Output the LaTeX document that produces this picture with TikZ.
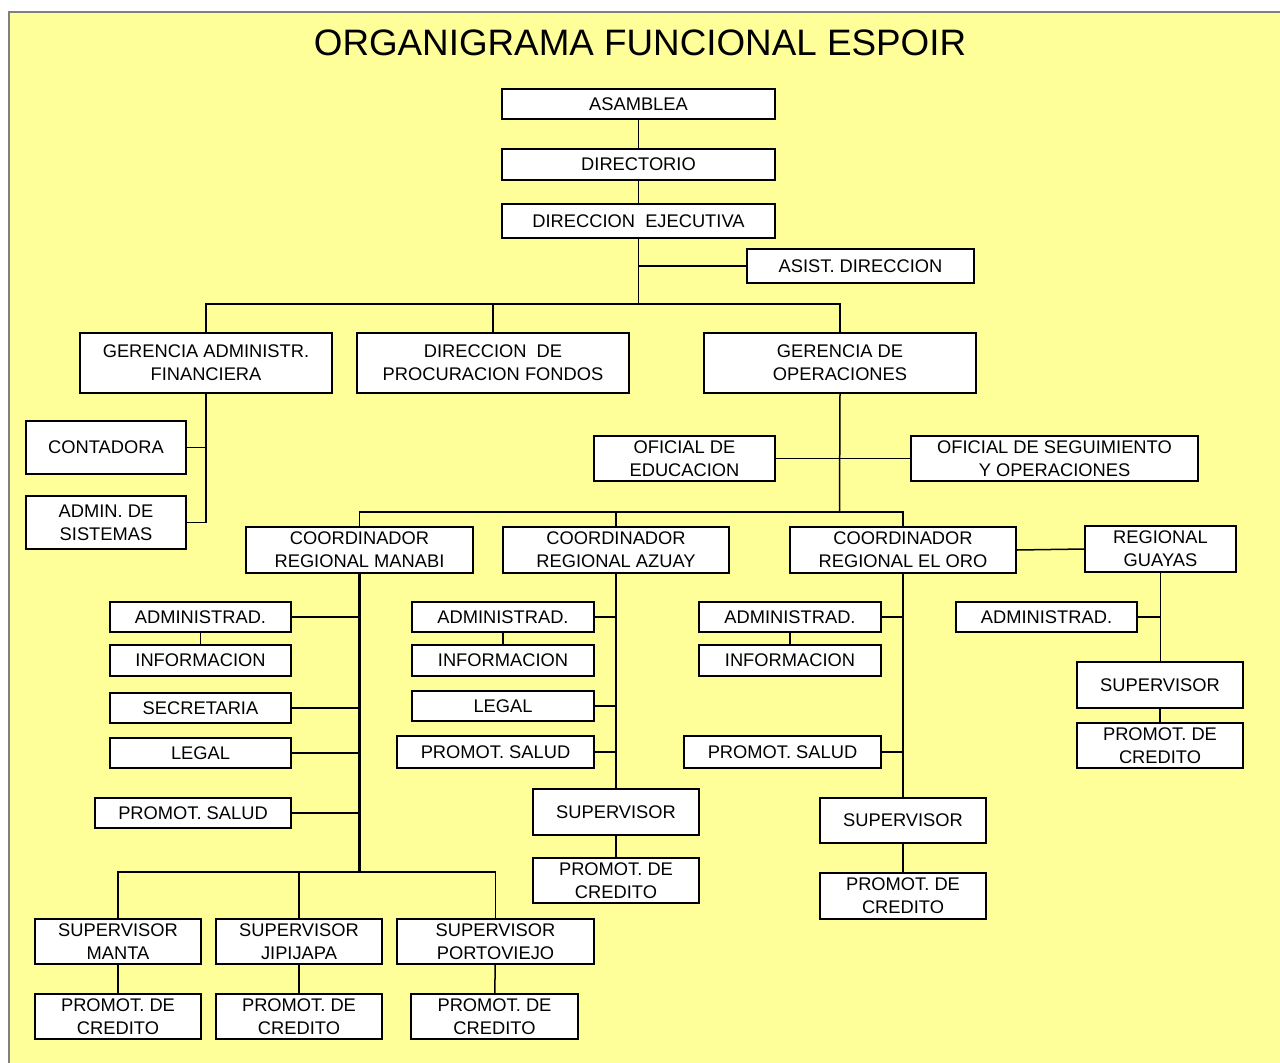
\documentclass[tikz,border=0pt]{standalone}
\usepackage{fontspec}
\setmainfont{Liberation Sans}
\definecolor{bgyellow}{RGB}{255,255,153}
\definecolor{framegray}{RGB}{128,128,128}
\tikzset{
  box/.style={draw=black, fill=white, line width=1.5pt, inner sep=0pt, align=center,
    font=\fontsize{18.3}{23}\selectfont},
  conn/.style={draw=black, line width=1.5pt},
  trunk/.style={draw=black, line width=2.6pt},
}
\newcommand{\obox}[6]{\node[box,minimum width={(#4)-(#2)},minimum height={(#5)-(#3)}] (#1) at ({((#2)+(#4))/2},{((#3)+(#5))/2}) {#6};}
\begin{document}
\begin{tikzpicture}[x=1pt,y=-1pt]
\useasboundingbox (0,0) rectangle (1280,1063);
\fill[white] (0,0) rectangle (1280,1063);
\fill[bgyellow] (9,12) rectangle (1285,1068);
\draw[framegray, line width=2.5pt] (9,1068) -- (9,12) -- (1285,12);

\node[font=\fontsize{36.8}{40}\selectfont] (title) at (640,42.5) {ORGANIGRAMA FUNCIONAL ESPOIR};

% top
\obox{asam}{502}{89}{775}{119}{ASAMBLEA}
\obox{dir}{502}{149}{775}{180}{DIRECTORIO}
\obox{de}{502}{204}{775}{238}{DIRECCION \ EJECUTIVA}
\obox{asist}{747}{249}{974}{283}{ASIST. DIRECCION}
\obox{gaf}{80}{333}{332}{393}{GERENCIA ADMINISTR.\\FINANCIERA}
\obox{dpf}{357}{333}{629}{393}{DIRECCION \ DE\\PROCURACION FONDOS}
\obox{go}{704}{333}{976}{393}{GERENCIA DE\\OPERACIONES}
\obox{cont}{26}{421}{186}{474}{CONTADORA}
\obox{sist}{26}{496}{186}{549}{ADMIN. DE\\SISTEMAS}
\obox{ofed}{594}{436}{775}{481}{OFICIAL DE\\EDUCACION}
\obox{ofseg}{911}{436}{1198}{481}{OFICIAL DE SEGUIMIENTO\\Y OPERACIONES}
% regional coordinators
\obox{man}{246}{527}{473}{573}{COORDINADOR\\REGIONAL MANABI}
\obox{az}{503}{527}{729}{573}{COORDINADOR\\REGIONAL AZUAY}
\obox{oro}{790}{527}{1016}{573}{COORDINADOR\\REGIONAL EL ORO}
\obox{guay}{1085}{526}{1236}{572}{REGIONAL\\GUAYAS}
% Manabi
\obox{madm}{110}{602}{291}{632}{ADMINISTRAD.}
\obox{minf}{110}{645}{291}{676}{INFORMACION}
\obox{msec}{110}{693}{291}{723}{SECRETARIA}
\obox{mleg}{110}{738}{291}{768}{LEGAL}
\obox{msal}{95}{798}{291}{828}{PROMOT. SALUD}
\obox{smanta}{35}{919}{201}{964}{SUPERVISOR\\MANTA}
\obox{sjip}{216}{919}{382}{964}{SUPERVISOR\\JIPIJAPA}
\obox{sport}{397}{919}{594}{964}{SUPERVISOR\\PORTOVIEJO}
\obox{cmanta}{35}{994}{201}{1039}{PROMOT. DE\\CREDITO}
\obox{cjip}{216}{994}{382}{1039}{PROMOT. DE\\CREDITO}
\obox{cport}{411}{994}{578}{1039}{PROMOT. DE\\CREDITO}
% Azuay
\obox{aadm}{412}{602}{594}{632}{ADMINISTRAD.}
\obox{ainf}{412}{645}{594}{676}{INFORMACION}
\obox{aleg}{412}{691}{594}{721}{LEGAL}
\obox{asal}{397}{736}{594}{768}{PROMOT. SALUD}
\obox{asup}{533}{789}{699}{835}{SUPERVISOR}
\obox{acred}{533}{858}{699}{903}{PROMOT. DE\\CREDITO}
% El Oro
\obox{oadm}{699}{602}{881}{632}{ADMINISTRAD.}
\obox{oinf}{699}{645}{881}{676}{INFORMACION}
\obox{osal}{684}{736}{881}{768}{PROMOT. SALUD}
\obox{osup}{820}{798}{986}{843}{SUPERVISOR}
\obox{ocred}{820}{873}{986}{919}{PROMOT. DE\\CREDITO}
% Guayas
\obox{gadm}{956}{602}{1137}{632}{ADMINISTRAD.}
\obox{gsup}{1077}{662}{1243}{708}{SUPERVISOR}
\obox{gcred}{1077}{723}{1243}{768}{PROMOT. DE\\CREDITO}

% junctions
\coordinate (j1) at (638.5,304);
\coordinate (j2) at (839.5,512);
\coordinate (j3) at (359.5,872);

% connectors top
\draw[conn] (asam) -- (dir);
\draw[conn] (dir) -- (de);
\draw[conn] (de.south) -- (j1);
\draw[conn] (asist.west) -- (de.south |- asist.west);
\draw[conn] (gaf.north) |- (go.north |- j1) -- (go.north);
\draw[conn] (dpf.north) -- (dpf.north |- j1);
% GAF
\draw[conn] (gaf.south) |- (sist.east);
\draw[conn] (cont.east) -- (gaf.south |- cont.east);
% GO
\draw[conn] (go.south) -- (j2);
\draw[conn] (ofed.east) -- (ofseg.west);
\draw[conn] (man.north) |- (oro.north |- j2) -- (oro.north);
\draw[conn] (az.north) -- (az.north |- j2);
\draw[conn] (oro.east) -- (guay.west);
% Manabi
\draw[trunk] (man.south) -- (j3);
\draw[conn] (madm.east) -- (man.south |- madm.east);
\draw[conn] (madm) -- (minf);
\draw[conn] (msec.east) -- (man.south |- msec.east);
\draw[conn] (mleg.east) -- (man.south |- mleg.east);
\draw[conn] (msal.east) -- (man.south |- msal.east);
\draw[conn] (smanta.north) |- (sport.north |- j3) -- (sport.north);
\draw[conn] (sjip.north) -- (sjip.north |- j3);
\draw[conn] (smanta) -- (cmanta);
\draw[conn] (sjip) -- (cjip);
\draw[conn] (sport) -- (cport);
% Azuay
\draw[conn] (az.south) -- (az.south |- asup.north);
\draw[conn] (aadm.east) -- (az.south |- aadm.east);
\draw[conn] (aadm) -- (ainf);
\draw[conn] (aleg.east) -- (az.south |- aleg.east);
\draw[conn] (asal.east) -- (az.south |- asal.east);
\draw[conn] (asup) -- (acred);
% El Oro
\draw[conn] (oro.south) -- (oro.south |- osup.north);
\draw[conn] (oadm.east) -- (oro.south |- oadm.east);
\draw[conn] (oadm) -- (oinf);
\draw[conn] (osal.east) -- (oro.south |- osal.east);
\draw[conn] (osup) -- (ocred);
% Guayas
\draw[conn] (guay.south) -- (guay.south |- gsup.north);
\draw[conn] (gadm.east) -- (guay.south |- gadm.east);
\draw[conn] (gsup) -- (gcred);
\end{tikzpicture}
\end{document}
